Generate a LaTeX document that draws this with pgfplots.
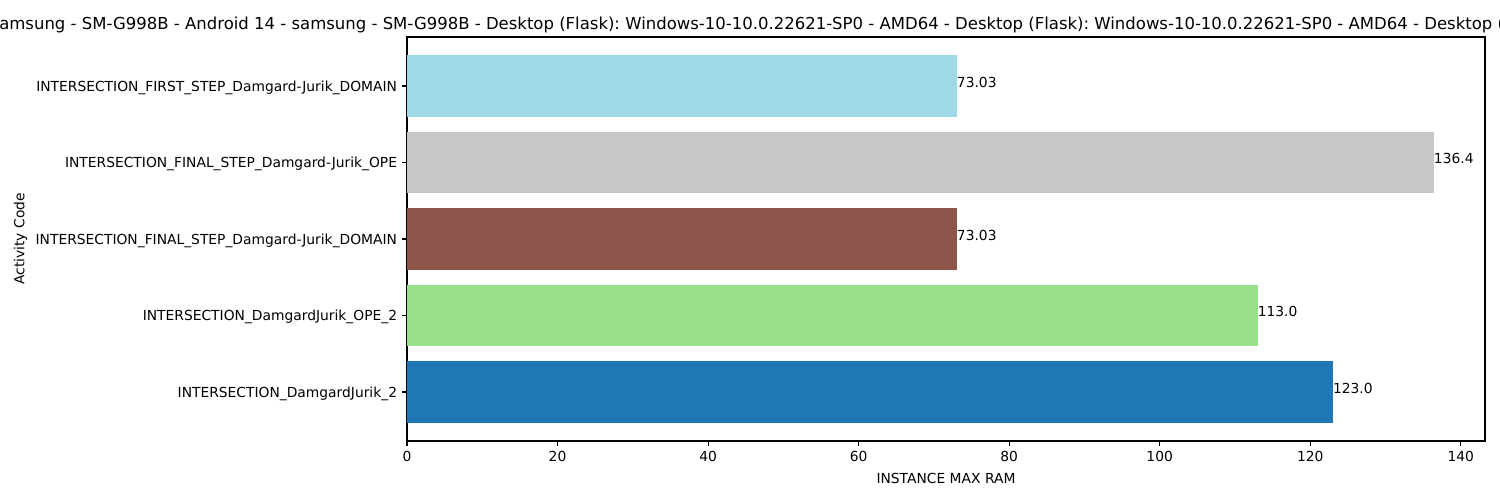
\documentclass[border=0pt]{standalone}
\usepackage{pgfplots}
\pgfplotsset{compat=1.18}
\usepackage{fontspec}
\setmainfont{DejaVu Sans}
\frenchspacing
\definecolor{cCyan}{HTML}{9EDAE5}
\definecolor{cGray}{HTML}{C7C7C7}
\definecolor{cBrown}{HTML}{8C564B}
\definecolor{cGreen}{HTML}{98DF8A}
\definecolor{cBlue}{HTML}{1F77B4}
\begin{document}
\begin{tikzpicture}
\begin{axis}[
  at={(4.07in,0.59in)}, anchor=south west,
  scale only axis, width=10.78in, height=4.04in,
  xmin=0, xmax=143.22, ymin=-0.64, ymax=4.64,
  xbar, bar width=0.8, bar shift=0pt,
  xtick={0,20,40,60,80,100,120,140},
  ytick={0,1,2,3,4},
  yticklabels={INTERSECTION\_DamgardJurik\_2,INTERSECTION\_DamgardJurik\_OPE\_2,INTERSECTION\_FINAL\_STEP\_Damgard-Jurik\_DOMAIN,INTERSECTION\_FINAL\_STEP\_Damgard-Jurik\_OPE,INTERSECTION\_FIRST\_STEP\_Damgard-Jurik\_DOMAIN},
  tick align=outside, tick pos=lower, major tick length=3.5pt,
  tick style={black, line width=0.8pt},
  axis line style={line width=0.8pt},
  /pgf/number format/assume math mode=true,
  ticklabel style={font=\fontsize{10}{12}\selectfont},
  yticklabel style={text depth=0pt, text height=7.3pt, inner xsep=3.5pt},
  xlabel={INSTANCE MAX RAM}, ylabel={Activity Code},
  label style={font=\fontsize{10}{12}\selectfont},
  xlabel style={yshift=-1.5pt},
  ylabel style={yshift=-1pt},
]
\addplot[fill=cBlue, draw=none] coordinates {(123.0,0)};
\addplot[fill=cGreen, draw=none] coordinates {(113.0,1)};
\addplot[fill=cBrown, draw=none] coordinates {(73.03,2)};
\addplot[fill=cGray, draw=none] coordinates {(136.4,3)};
\addplot[fill=cCyan, draw=none] coordinates {(73.03,4)};
\node[anchor=base west, inner sep=0pt, yshift=-1pt, font=\fontsize{10}{12}\selectfont] at (axis cs:123.0,0) {123.0};
\node[anchor=base west, inner sep=0pt, yshift=-1pt, font=\fontsize{10}{12}\selectfont] at (axis cs:113.0,1) {113.0};
\node[anchor=base west, inner sep=0pt, yshift=-1pt, font=\fontsize{10}{12}\selectfont] at (axis cs:73.03,2) {73.03};
\node[anchor=base west, inner sep=0pt, yshift=-1pt, font=\fontsize{10}{12}\selectfont] at (axis cs:136.4,3) {136.4};
\node[anchor=base west, inner sep=0pt, yshift=-1pt, font=\fontsize{10}{12}\selectfont] at (axis cs:73.03,4) {73.03};
\end{axis}
\node[anchor=base west, inner sep=0pt, font=\fontsize{11.92}{14}\selectfont] at (-0.01in,4.70in) {\llap{s}amsung - SM-G998B - Android 14 - samsung - SM-G998B - Desktop (Flask): Windows-10-10.0.22621-SP0 - AMD64 - Desktop (Flask): Windows-10-10.0.22621-SP0 - AMD64 - Desktop (Flask)};
\pgfresetboundingbox
\path (0,0) rectangle (15in,5in);
\end{tikzpicture}
\end{document}
